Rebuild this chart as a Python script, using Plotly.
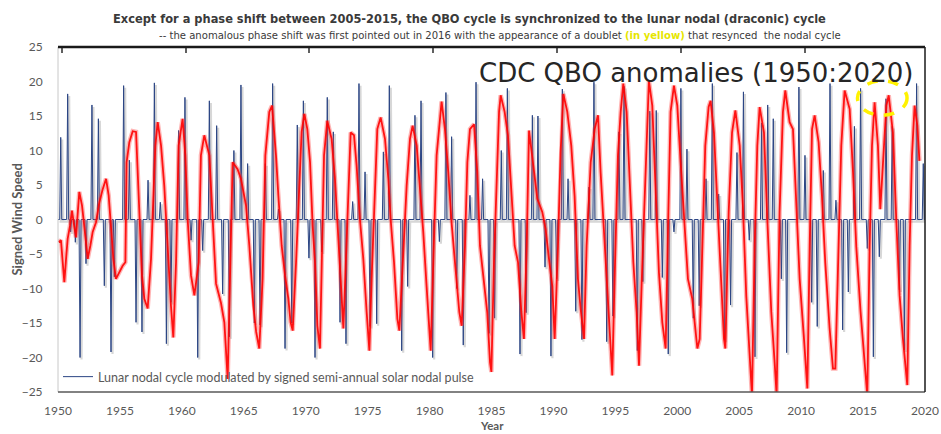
import plotly.graph_objects as go

# ---------------- data ----------------
# Blue: lunar nodal cycle modulated by signed semi-annual solar nodal pulse (spike times / peak values)
blue_years = [1950.22,1950.78,1951.02,1951.40,1951.78,1952.26,1952.74,1953.26,1953.74,1954.28,
              1954.55,1955.30,1955.76,1956.30,1956.78,1957.27,1957.78,1958.26,1958.75,1959.12,
              1959.74,1960.25,1960.74,1961.28,1961.68,1962.22,1962.81,1963.29,1963.83,1964.20,
              1964.77,1965.31,1965.85,1966.31,1966.74,1967.33,1967.80,1968.33,1968.87,1969.32,
              1969.81,1970.26,1970.75,1971.29,1971.74,1972.23,1972.77,1973.25,1973.79,1974.30,
              1974.79,1975.19,1975.73,1976.27,1976.75,1977.75,1978.23,1978.82,1979.31,1980.25,
              1980.79,1981.32,1981.78,1982.19,1982.72,1983.26,1983.75,1984.28,1984.80,1985.25,
              1985.79,1986.28,1987.30,1987.80,1988.30,1988.75,1989.32,1989.80,1990.26,1990.72,
              1991.18,1991.80,1992.30,1992.87,1993.27,1994.30,1994.80,1995.29,1995.70,1996.77,
              1997.22,1997.78,1998.30,1998.79,1999.27,1999.73,2000.29,2000.78,2001.29,2001.77,
              2002.32,2002.83,2003.34,2003.81,2004.30,2004.82,2005.34,2005.81,2006.27,2006.80,
              2007.30,2007.75,2008.40,2008.83,2009.82,2010.31,2010.85,2011.30,2011.79,2012.33,
              2012.81,2013.35,2013.81,2014.30,2014.80,2015.34,2015.83,2016.31,2016.85,2017.35,
              2017.93,2018.33,2019.32,2019.86]
blue_values = [11.9,18.2,-1.8,-3.3,-20.0,-6.4,16.6,14.6,-9.6,-19.2,
               -8.3,19.4,8.6,-14.9,-16.3,5.7,19.8,2.5,-18.0,-12.0,
               12.9,17.7,-3.0,-20.0,-4.5,17.2,13.6,-10.8,-17.0,10.0,
               19.5,8.1,-15.0,-15.3,8.1,19.7,1.5,-18.7,-15.0,13.7,
               17.2,-5.6,-20.0,-4.7,17.7,12.7,-14.9,-18.0,2.6,19.7,
               6.9,-15.5,-15.1,9.8,19.4,-19.0,-9.7,15.1,17.2,-20.0,
               -3.2,18.4,12.0,-10.0,-18.2,3.5,19.9,5.9,-16.5,-14.3,
               10.0,19.0,-19.5,-13.5,15.1,15.0,-6.9,-19.8,-8.6,18.9,
               5.9,-13.3,-17.4,4.7,19.9,-17.7,-14.0,12.7,19.3,-19.0,
               -9.0,15.7,15.8,-8.4,-19.5,-1.8,19.0,10.2,-14.3,-12.5,
               5.9,19.7,3.7,-17.5,-12.4,9.7,18.5,-3.0,-19.9,14.0,
               16.6,14.6,-8.6,-19.3,19.2,9.3,-12.0,-15.5,7.1,19.7,
               2.8,-16.0,-10.5,13.5,19.0,-4.2,-19.9,-5.4,17.5,13.5,
               -10.2,-18.9,19.7,8.1]

# Red: CDC QBO anomalies
qbo_years = [1950.05,1950.24,1950.38,1950.51,1950.65,1950.78,1950.97,1951.13,1951.32,1951.45,
             1951.72,1951.94,1952.13,1952.40,1952.61,1952.80,1953.07,1953.34,1953.61,1953.88,
             1954.09,1954.28,1954.47,1954.68,1954.95,1955.22,1955.44,1955.54,1955.76,1956.03,
             1956.30,1956.43,1956.57,1956.78,1956.97,1957.24,1957.51,1957.70,1957.86,1958.05,
             1958.32,1958.58,1958.85,1959.12,1959.31,1959.53,1959.74,1960.06,1960.28,1960.47,
             1960.74,1961.01,1961.36,1961.54,1961.81,1962.22,1962.49,1962.76,1963.16,1963.43,
             1963.70,1963.89,1964.10,1964.50,1964.77,1965.18,1965.45,1965.77,1966.00,1966.25,
             1966.52,1966.74,1967.06,1967.28,
             1967.39,1967.60,1967.79,1968.06,1968.33,1968.60,1968.78,1968.95,1969.22,1969.48,
             1969.67,1969.89,1970.13,1970.35,1970.56,1970.75,1970.94,1971.15,1971.31,1971.48,
             1971.74,1972.09,1972.36,1972.63,1972.82,1973.04,1973.25,1973.47,1973.63,1973.90,
             1974.11,1974.38,1974.65,1974.92,1975.14,1975.32,1975.59,1975.78,1976.05,1976.40,
             1976.67,1976.86,1977.13,1977.40,1977.56,1977.83,1978.15,1978.42,1978.63,1978.96,
             1979.23,1979.49,1979.76,1980.09,1980.30,1980.57,1980.97,1981.24,1981.51,1981.78,
             1982.05,1982.40,1982.59,1982.86,1983.05,1983.26,1983.59,1983.85,1984.07,1984.34,
             1984.66,1984.88,1984.99,1985.20,1985.42,1985.61,1985.74,1986.06,1986.33,1986.60,
             1986.87,1987.14,1987.41,1987.62,1987.84,1988.03,1988.38,1988.70,1989.10,1989.37,
             1989.64,1989.91,1990.10,1990.37,1990.58,1990.80,1991.12,1991.44,1991.71,1991.98,
             1992.20,1992.47,1992.68,1993.01,1993.33,1993.60,1993.81,1994.08,1994.40,1994.75,
             1994.94,1995.21,1995.43,1995.64,1995.91,1996.18,1996.45,1996.72,1996.91,1997.18,
             1997.45,1997.71,1997.98,1998.25,1998.52,1998.79,1999.06,1999.28,1999.46,1999.73,
             2000.00,2000.27,2000.54,2000.86,2001.21,2001.62,
             2001.81,2002.00,2002.26,2002.53,2002.69,2002.96,2003.23,2003.50,2003.77,2003.88,
             2004.15,2004.42,2004.69,2005.04,2005.30,2005.57,2005.84,2006.03,2006.25,2006.46,
             2006.65,2007.00,2007.27,2007.59,2007.86,2008.02,2008.26,2008.53,2008.72,2009.07,
             2009.34,2009.61,2009.88,2010.23,2010.50,2010.69,2010.88,2011.09,2011.41,2011.68,
             2011.95,2012.30,2012.57,2012.76,2012.97,2013.24,2013.51,2013.92,2014.19,2014.45,
             2014.80,2015.13,2015.34,2015.53,2015.72,2015.93,2016.20,2016.39,2016.61,2016.88,
             2017.07,2017.41,2017.68,2017.95,2018.22,2018.57,2018.76,2018.95,2019.16,2019.38,
             2019.55]
qbo_values = [-3.3,-3,-6.2,-9.1,-5.7,-2.8,-0.9,1.3,-1.1,-2.6,
              4,2,-1.1,-5.7,-3.8,-1.8,-0.4,2.5,4.4,5.9,
              3.5,-1.8,-5.7,-8.6,-7.6,-6.7,-6.2,8.3,11.2,12.8,
              12.7,6.9,-1.4,-8.1,-11.5,-12.9,-5.7,4.9,10.7,14.1,
              10.7,4.9,-4.7,-12.5,-17.1,-6.2,10.7,14.6,9.3,0,
              -8.1,-11,-6.2,9.3,12.2,9.3,0,-9.3,-12.1,-14.9,
              -23.1,-8.6,8.3,7.3,5.9,2,-3.8,-12.5,-16.3,-18.7,
              -8.6,9.3,15.6,16.5,
              14.1,9.3,3.5,-3.8,-8.1,-11.5,-14.9,-16.1,-6.2,4.9,
              12.7,15.3,13.1,8.3,-0.9,-6.2,-15.4,-18.7,-3.8,9.3,
              14.3,11.7,5.9,-1.8,-8.6,-15.8,-6.2,5.9,12.6,12.2,
              7.8,0,-5.7,-13.4,-19,-8.6,4.9,13.1,14.8,11.7,
              5.9,0,-6.2,-14.4,-16.1,-6.2,4.9,11.7,13.6,10.7,
              4.9,-1.8,-9.7,-19,-6.2,9.3,17.1,13.1,6.9,-0.5,
              -6.2,-13.4,-15.4,-3.8,8.3,13.1,13.8,6.9,-3.8,-8.1,
              -13.5,-20.7,-22.1,-6.2,6.9,15.6,18,15.6,12.2,4.9,
              -3.8,-6.2,-13.4,-17.3,-3.8,12.9,7.3,3,1.1,-1.4,
              -5.7,-9.7,-17.3,-3.8,9.8,18.2,15.6,10.7,3.4,-8.6,
              -13,-17.3,-3.8,8.3,13.1,15.1,6.8,-1.9,-12.5,-22.6,
              -8.6,9.3,15.6,19.7,15.6,4.3,-6.2,-13.5,-21.2,-6.2,
              8.3,20.1,16.5,4.9,-7.7,-14.9,-18.7,1.1,15.6,19.4,
              16.5,8.3,1.1,-8.6,-11.5,-18.7,
              -17.3,-3.8,10.7,16.3,17.2,12.6,2,-8.6,-17.3,-18.7,
              1.1,12.6,15.8,10.7,1.9,-11.1,-20.8,-25.5,-3.8,10.7,
              16.3,12.6,0,-13.4,-20.7,-25.5,1.1,15.6,18.7,14.1,
              13.1,1.9,-8.6,-17.3,-24.5,-3.8,13.1,15.1,11.2,3.4,
              -6.3,-15.8,-21.6,-21.6,-8.6,10.7,18.7,16,6.8,-3.9,
              -13.4,-20.7,-25.5,-3.8,10.7,17,10.7,1.5,8.3,16.5,
              18,12.6,0,-11,-17.3,-24,-3.8,9.3,16.5,13.6,
              8.5]

x_ticks = [1950, 1955, 1960, 1965, 1970, 1975, 1980, 1985, 1990, 1995, 2000, 2005, 2010, 2015, 2020]
y_ticks = [-25, -20, -15, -10, -5, 0, 5, 10, 15, 20, 25]

# ---------------- build traces ----------------
n = min(len(qbo_years), len(qbo_values))
qx, qy = qbo_years[:n], qbo_values[:n]

m = min(len(blue_years), len(blue_values))
half = 1.0 / 12.0
bx, by = [1950.0], [0.0]
for t, v in sorted(zip(blue_years[:m], blue_values[:m])):
    bx += [t - half, t, t + half]
    by += [0.0, v, 0.0]
bx.append(2020.0)
by.append(0.0)

shadow_x = [x + 0.12 for x in bx]
shadow_y = [y - 0.3 for y in by]

fig = go.Figure()
fig.add_trace(go.Scatter(x=shadow_x, y=shadow_y, mode="lines", showlegend=False, hoverinfo="skip",
                         line=dict(color="rgba(140,140,140,0.35)", width=2.2)))
fig.add_trace(go.Scatter(x=bx, y=by, mode="lines",
                         name="Lunar nodal cycle modulated by signed semi-annual solar nodal pulse",
                         line=dict(color="#2B4584", width=1)))
fig.add_trace(go.Scatter(x=qx, y=qy, mode="lines", showlegend=False, hoverinfo="skip",
                         line=dict(color="rgba(255,60,60,0.38)", width=4.5)))
fig.add_trace(go.Scatter(x=qx, y=qy, mode="lines", showlegend=False,
                         xaxis="x2", line=dict(color="rgba(255,0,0,0.9)", width=1.8)))

tick_font = dict(family="Lato, Open Sans, sans-serif", size=12, color="#595959")
narrow = "Liberation Sans Narrow, DejaVu Sans Condensed, Arial Narrow, sans-serif"

fig.update_layout(
    width=941, height=434,
    margin=dict(l=58, r=16, t=47, b=42),
    paper_bgcolor="white", plot_bgcolor="white",
    showlegend=True,
    legend=dict(x=0.0, y=0.0, xanchor="left", yanchor="bottom", bgcolor="rgba(0,0,0,0)",
                font=dict(family="Lato, Open Sans, sans-serif", size=12.5, color="#595959")),
    xaxis=dict(range=[1950, 2020], tickvals=x_ticks, showgrid=False, zeroline=False,
               ticks="outside", ticklen=8, tickcolor="rgba(0,0,0,0)", tickfont=tick_font,
               showline=False, automargin=False),
    xaxis2=dict(range=[1950, 2020], overlaying="x", side="top", anchor="y",
                tick0=1950.3, dtick=10, ticks="inside", ticklen=6, tickwidth=2, tickcolor="#606060",
                showticklabels=False, showgrid=False, zeroline=False, showline=False),
    yaxis=dict(range=[-25, 25], tickvals=y_ticks, showgrid=False, zeroline=False,
               ticks="outside", ticklen=12, tickcolor="rgba(0,0,0,0)", tickfont=tick_font,
               showline=False, automargin=False),
    shapes=[
        dict(type="line", xref="paper", yref="paper", x0=0, x1=0, y0=0, y1=1,
             line=dict(color="#c8c8c8", width=1)),
        dict(type="line", xref="paper", yref="paper", x0=0, x1=1, y0=0, y1=0,
             line=dict(color="#595959", width=1.5)),
        dict(type="line", xref="paper", yref="paper", x0=1, x1=1, y0=0, y1=1,
             line=dict(color="#1a1a1a", width=1.5)),
        dict(type="line", xref="paper", yref="paper", x0=0, x1=1, y0=1, y1=1,
             line=dict(color="#1a1a1a", width=2.5)),
        dict(type="circle", xref="x", yref="y", x0=2014.55, x1=2018.55, y0=15.1, y1=20.1,
             line=dict(color="#FFF200", width=3.5, dash="dash")),
    ],
    annotations=[
        dict(text="<b>Except for a phase shift between 2005-2015, the QBO cycle is synchronized to the lunar nodal (draconic) cycle</b>",
             xref="paper", yref="paper", x=0.4752, y=1.084, xanchor="center", yanchor="middle",
             showarrow=False, font=dict(family=narrow, size=12.7, color="#3a3a3a")),
        dict(text="-- the anomalous phase shift was first pointed out in 2016 with the appearance of a doublet "
                  "<span style='color:#E6E600'><b>(in yellow)</b></span> that resynced  the nodal cycle",
             xref="paper", yref="paper", x=0.51, y=1.032, xanchor="center", yanchor="middle",
             showarrow=False, font=dict(family=narrow, size=11.2, color="#3a3a3a")),
        dict(text="CDC QBO anomalies (1950:2020)",
             xref="paper", yref="paper", x=0.736, y=0.925, xanchor="center", yanchor="middle",
             showarrow=False, font=dict(family="DejaVu Sans, sans-serif", size=26, color="#262626")),
        dict(text="<b>Signed Wind Speed</b>", textangle=-90,
             xref="paper", yref="paper", x=-0.0473, y=0.5, xanchor="center", yanchor="middle",
             showarrow=False, font=dict(family="Lato, Open Sans, sans-serif", size=13, color="#595959")),
        dict(text="<b>Year</b>",
             xref="paper", yref="paper", x=0.5, y=-0.097, xanchor="center", yanchor="middle",
             showarrow=False, font=dict(family="Lato, Open Sans, sans-serif", size=11.5, color="#595959")),
    ],
)

fig.write_html("out.html", config={"displayModeBar": False},
               post_script="document.body.style.margin='0';document.body.style.padding='0';")
